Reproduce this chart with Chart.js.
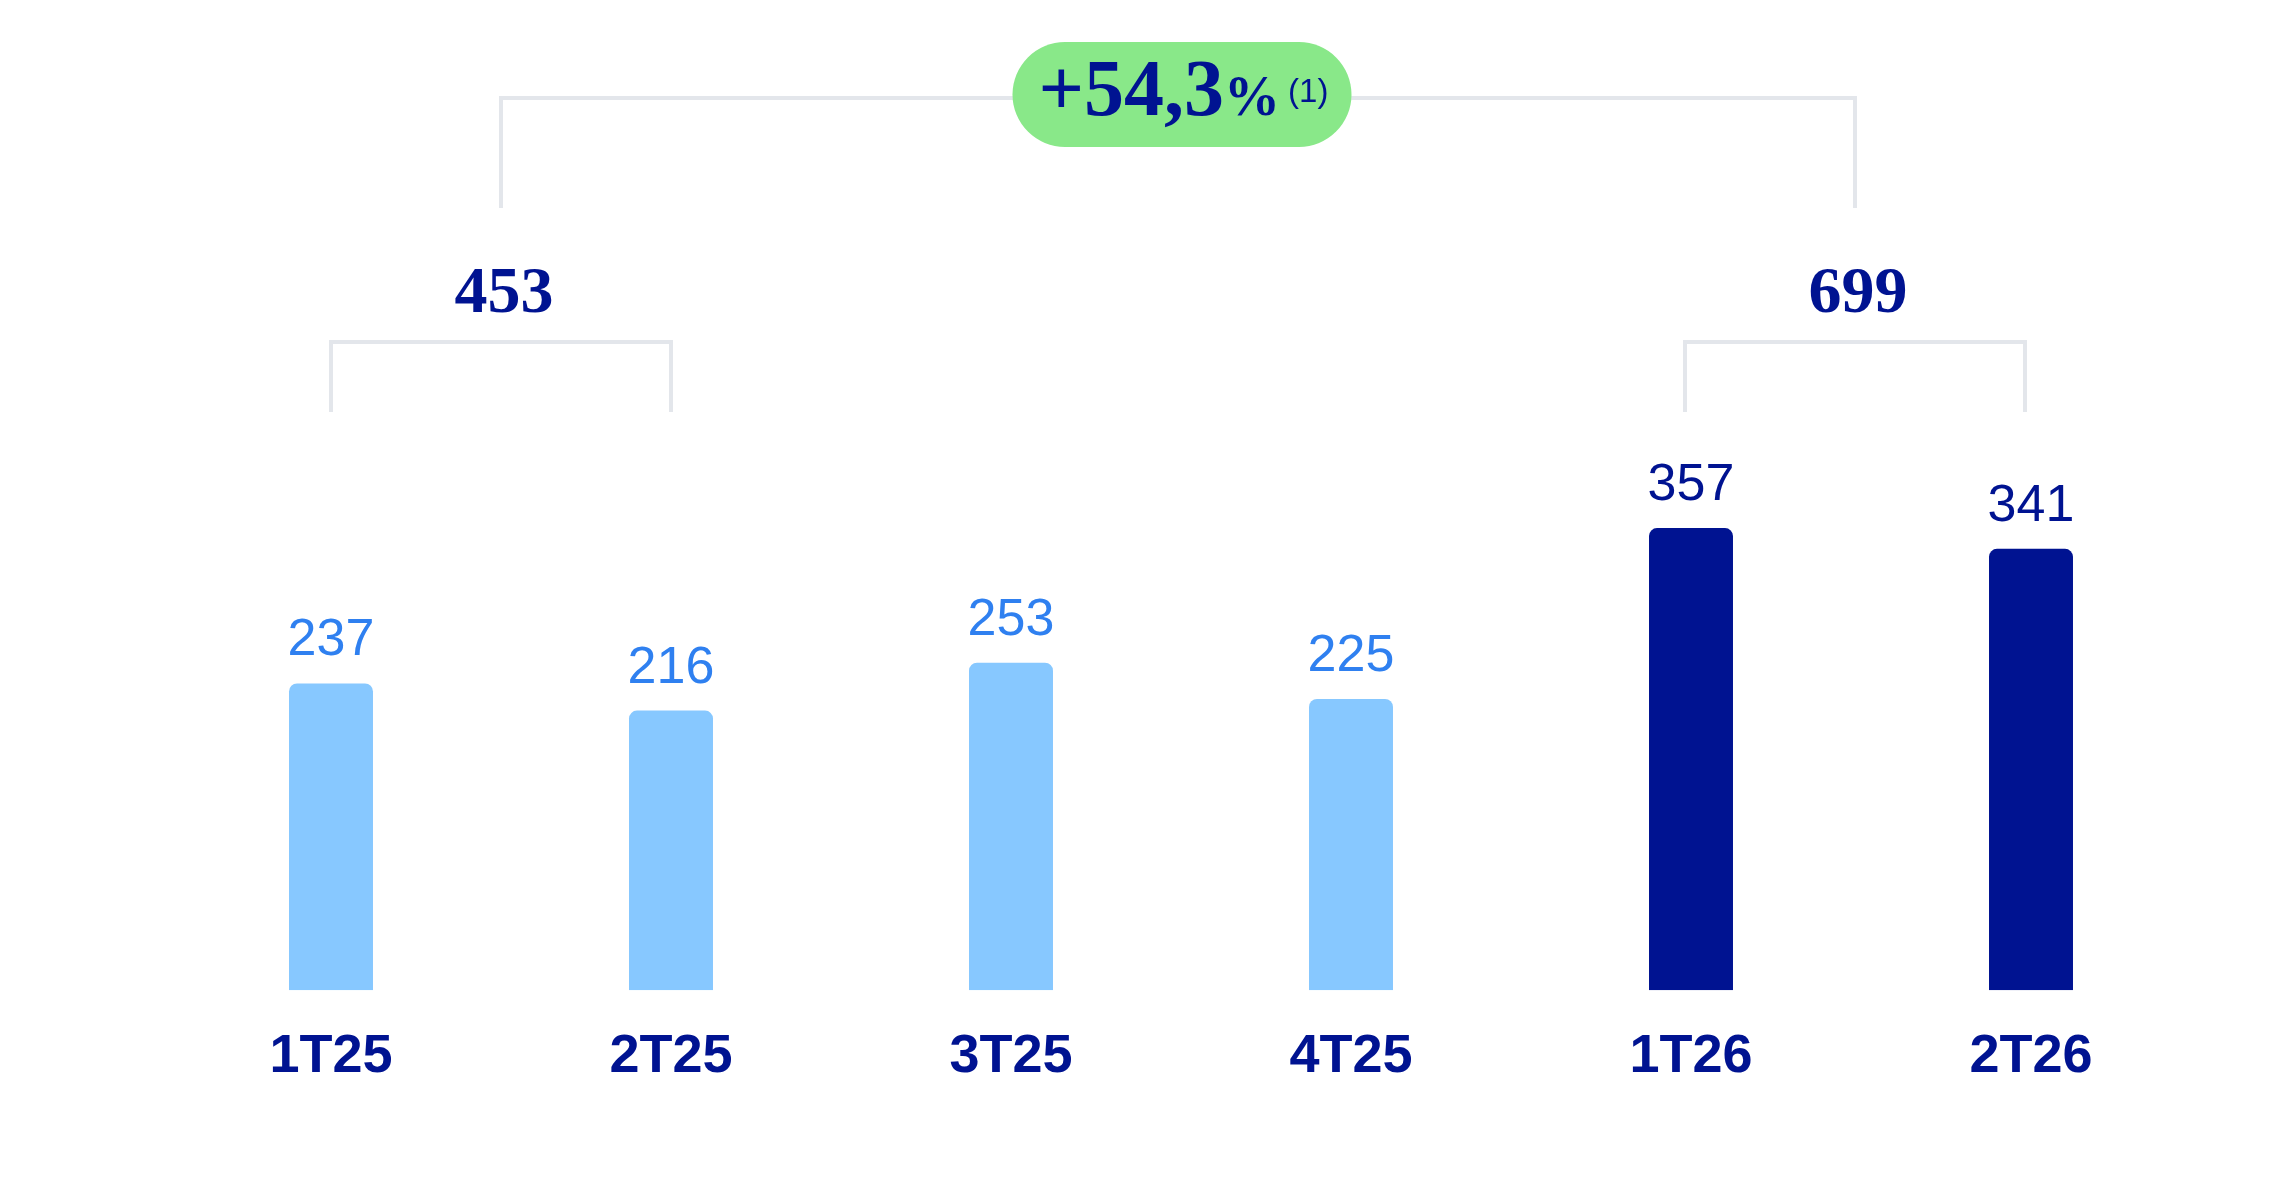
<!DOCTYPE html>
<html>
<head>
<meta charset="utf-8">
<script src="https://cdn.jsdelivr.net/npm/chart.js@4.4.1/dist/chart.umd.min.js"></script>
<style>
  html, body { margin: 0; padding: 0; background: #ffffff; }
  #wrap { width: 2292px; height: 1188px; }
</style>
</head>
<body>
<div id="wrap"><canvas id="c" width="2292" height="1188"></canvas></div>
<script>
// ---- Data ----
const categories = ['1T25', '2T25', '3T25', '4T25', '1T26', '2T26'];
const values = [237, 216, 253, 225, 357, 341];
const groupTotals = [453, 699];
const groupMembers = [[0, 1], [4, 5]];
const growthValue = '+54,3';
const growthUnit = '%';
const growthNote = '(1)';

// ---- Styles ----
const NAVY = '#001391';
const LIGHT = '#87C8FF';
const LIGHT_TEXT = '#2F80F0';
const GREEN = '#89E889';
const LINE = '#E3E6EB';
const barColors = values.map((v, i) => i >= 4 ? NAVY : LIGHT);
const labelColors = values.map((v, i) => i >= 4 ? NAVY : LIGHT_TEXT);

const annotations = {
  id: 'annotations',
  afterDatasetsDraw(chart) {
    const ctx = chart.ctx;
    const meta = chart.getDatasetMeta(0);
    const xs = chart.scales.x;
    ctx.save();
    // value labels
    ctx.font = '400 52px "Liberation Sans", Arial, sans-serif';
    ctx.textAlign = 'center';
    ctx.textBaseline = 'alphabetic';
    meta.data.forEach((el, i) => {
      ctx.fillStyle = labelColors[i];
      ctx.fillText(String(values[i]), el.x, el.y - 28);
    });

    // group brackets
    ctx.strokeStyle = LINE;
    ctx.lineWidth = 4;
    const centers = [];
    groupMembers.forEach((m, g) => {
      const shift = g === 0 ? 0 : -6;
      const x1 = xs.getPixelForValue(m[0]) + shift;
      const x2 = xs.getPixelForValue(m[m.length - 1]) + shift;
      ctx.beginPath();
      ctx.moveTo(x1, 412);
      ctx.lineTo(x1, 342);
      ctx.lineTo(x2, 342);
      ctx.lineTo(x2, 412);
      ctx.stroke();
      const cx = (x1 + x2) / 2;
      centers.push(cx);
      ctx.fillStyle = NAVY;
      ctx.font = 'bold 66px "Liberation Serif", "Times New Roman", serif';
      ctx.textAlign = 'center';
      ctx.fillText(String(groupTotals[g]), cx + 3, 312);
    });

    // top bracket
    ctx.beginPath();
    ctx.moveTo(centers[0], 208);
    ctx.lineTo(centers[0], 98);
    ctx.lineTo(centers[1], 98);
    ctx.lineTo(centers[1], 208);
    ctx.stroke();

    // badge
    const bcx = (centers[0] + centers[1]) / 2 + 4;
    const bw = 339, bh = 105, by = 42;
    const bx = bcx - bw / 2;
    ctx.fillStyle = GREEN;
    ctx.beginPath();
    ctx.roundRect(bx, by, bw, bh, bh / 2);
    ctx.fill();

    ctx.fillStyle = NAVY;
    ctx.textAlign = 'left';
    ctx.font = 'bold 80px "Liberation Serif", "Times New Roman", serif';
    let tx = bx + 26;
    ctx.fillText(growthValue, tx, 115);
    tx += ctx.measureText(growthValue).width;
    ctx.font = 'bold 56px "Liberation Serif", "Times New Roman", serif';
    ctx.fillText(growthUnit, tx, 115);
    tx += ctx.measureText(growthUnit).width + 8;
    ctx.font = '300 33px "Liberation Sans", Arial, sans-serif';
    ctx.fillText(growthNote, tx, 102);
    ctx.restore();
  }
};

new Chart(document.getElementById('c'), {
  type: 'bar',
  data: {
    labels: categories,
    datasets: [{
      data: values,
      backgroundColor: barColors,
      borderRadius: { topLeft: 8, topRight: 8, bottomLeft: 0, bottomRight: 0 },
      borderSkipped: 'bottom',
      barPercentage: 0.5,
      categoryPercentage: 0.494
    }]
  },
  options: {
    responsive: false,
    devicePixelRatio: 1,
    animation: false,
    layout: { padding: { left: 161, right: 91, top: 343, bottom: 63 } },
    plugins: { legend: { display: false }, tooltip: { enabled: false } },
    scales: {
      y: { display: false, min: 0, max: 500 },
      x: {
        grid: { display: false, drawTicks: false },
        border: { display: false },
        ticks: {
          color: NAVY,
          padding: 35,
          font: { family: '"Liberation Sans", Arial, sans-serif', size: 54, weight: 'bold', lineHeight: 1.2 }
        }
      }
    }
  },
  plugins: [annotations]
});
</script>
</body>
</html>
